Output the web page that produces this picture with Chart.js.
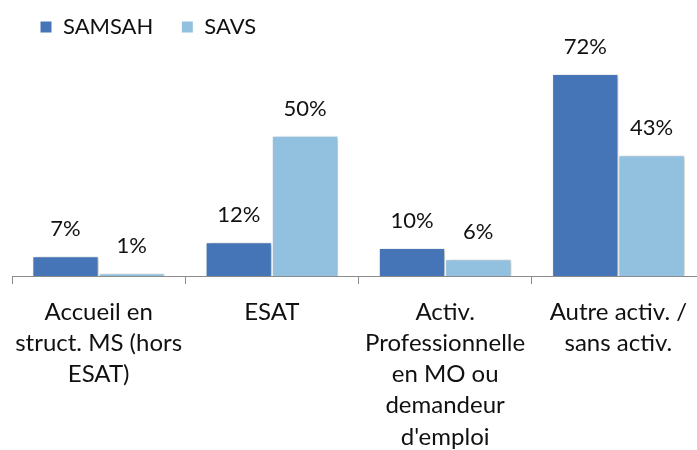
<!DOCTYPE html>
<html>
<head>
<meta charset="utf-8">
<script src="https://cdn.jsdelivr.net/npm/chart.js@4"></script>
<style>
  html, body { margin: 0; padding: 0; background: #fff; overflow: hidden; }
  #wrap { width: 705px; height: 450px; }
</style>
</head>
<body>
<div id="wrap"><canvas id="chart"></canvas></div>
<script>
const categories = [
  ['Accueil en', 'struct. MS (hors', 'ESAT)'],
  'ESAT',
  ['Activ.', 'Professionnelle', 'en MO ou', 'demandeur', "d'emploi"],
  ['Autre activ. /', 'sans activ.']
];
const samsah = [7, 12, 10, 72];
const savs = [1, 50, 6, 43];

const FONT = 'Lato';

// shadow under the bars, like the Excel original
const barShadow = {
  id: 'barShadow',
  beforeDatasetsDraw(chart) {
    const ctx = chart.ctx;
    ctx.save();
    ctx.shadowColor = 'rgba(0,0,0,0.28)';
    ctx.shadowBlur = 4;
    ctx.shadowOffsetX = 2;
    ctx.shadowOffsetY = 1;
  },
  afterDatasetsDraw(chart) {
    chart.ctx.restore();
  }
};

// value labels above each bar
const valueLabels = {
  id: 'valueLabels',
  afterDatasetsDraw(chart) {
    const ctx = chart.ctx;
    ctx.save();
    ctx.font = '22px ' + FONT;
    ctx.fillStyle = '#111';
    ctx.textAlign = 'center';
    ctx.textBaseline = 'middle';
    chart.data.datasets.forEach((ds, i) => {
      chart.getDatasetMeta(i).data.forEach((bar, j) => {
        ctx.fillText(ds.data[j] + '%', bar.x, bar.y - 27);
      });
    });
    ctx.restore();
  }
};

new Chart(document.getElementById('chart').getContext('2d'), {
  type: 'bar',
  data: {
    labels: categories,
    datasets: [{
      label: 'SAMSAH',
      data: samsah,
      backgroundColor: '#4575B7',
      borderColor: '#ffffff',
      borderWidth: 1,
      borderSkipped: 'bottom'
    }, {
      label: 'SAVS',
      data: savs,
      backgroundColor: '#92C0DF',
      borderColor: '#ffffff',
      borderWidth: 1,
      borderSkipped: 'bottom'
    }]
  },
  options: {
    responsive: true,
    maintainAspectRatio: false,
    animation: false,
    layout: { padding: { top: -12, left: 12, right: 0, bottom: -14.8 } },
    datasets: {
      bar: { categoryPercentage: 0.765, barPercentage: 1 }
    },
    plugins: {
      legend: {
        display: true,
        position: 'top',
        align: 'start',
        labels: {
          boxWidth: 12,
          boxHeight: 12,
          padding: 28,
          color: '#111',
          font: { family: FONT, size: 22 }
        }
      },
      tooltip: { enabled: false }
    },
    scales: {
      x: {
        // wide first label should not push the plot to the right
        afterFit: s => { s.paddingLeft = 0; s.paddingRight = 0; },
        grid: {
          offset: true,
          drawOnChartArea: false,
          drawTicks: true,
          tickLength: 8,
          color: '#8c8c8c'
        },
        border: { color: '#8c8c8c', width: 1 },
        ticks: {
          color: '#111',
          padding: 12.4,
          maxRotation: 0,
          autoSkip: false,
          font: { family: FONT, size: 24, lineHeight: 1.3 }
        }
      },
      y: {
        display: false,
        beginAtZero: true,
        min: 0,
        max: 81.26
      }
    }
  },
  plugins: [barShadow, valueLabels]
});
</script>
</body>
</html>
